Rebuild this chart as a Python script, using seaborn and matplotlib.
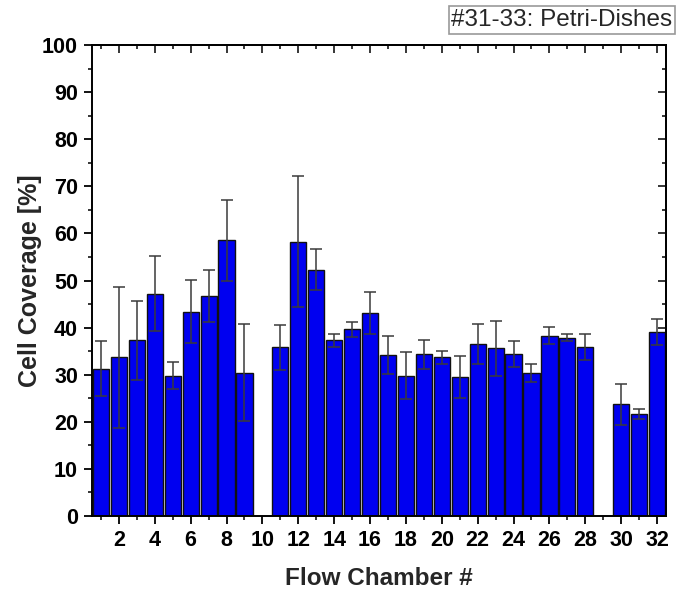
import numpy as np
import pandas as pd
import matplotlib
matplotlib.use("Agg")
import matplotlib.pyplot as plt
from matplotlib.ticker import MultipleLocator
import seaborn as sns

# Data (chambers 10 and 29 have no bar)
chambers = [1, 2, 3, 4, 5, 6, 7, 8, 9, 11, 12, 13, 14, 15, 16, 17, 18, 19, 20,
            21, 22, 23, 24, 25, 26, 27, 28, 30, 31, 32]
coverage = [31.3, 33.7, 37.3, 47.2, 29.8, 43.4, 46.7, 58.5, 30.4, 35.8, 58.2, 52.3,
            37.3, 39.6, 43.1, 34.2, 29.8, 34.3, 33.7, 29.5, 36.5, 35.6, 34.4, 30.3,
            38.3, 37.9, 35.9, 23.7, 21.7, 39.1]
errors = [5.8, 15.0, 8.4, 8.0, 2.9, 6.7, 5.6, 8.5, 10.3, 4.7, 13.9, 4.3,
          1.4, 1.6, 4.4, 4.1, 5.0, 3.1, 1.4, 4.4, 4.2, 5.8, 2.7, 1.9,
          1.8, 0.8, 2.8, 4.3, 1.1, 2.8]
x_ticks = list(range(2, 33, 2))
y_ticks = list(range(0, 101, 10))
legend_text = "#31-33: Petri-Dishes"

df = pd.DataFrame({"chamber": chambers, "coverage": coverage, "err": errors})

sns.set_style("ticks")
plt.rcParams["font.family"] = ["Liberation Sans", "DejaVu Sans"]

fig = plt.figure(figsize=(6.77, 5.90), dpi=100)
ax = fig.add_axes([0.1359, 0.1254, 0.9838 - 0.1359, 0.9237 - 0.1254])

sns.barplot(data=df, x="chamber", y="coverage", native_scale=True, width=0.9,
            color="#0000F0", saturation=1, edgecolor="#111111", linewidth=1.0,
            errorbar=None, ax=ax)
ax.errorbar(df["chamber"], df["coverage"], yerr=df["err"], fmt="none",
            ecolor="#3a3a3a", elinewidth=1.1, capsize=4, capthick=1.1, zorder=3)

ax.set_xlim(0.5, 32.5)
ax.set_ylim(0, 100)
ax.set_xticks(x_ticks)
ax.set_xticklabels([str(t) for t in x_ticks])
ax.xaxis.set_minor_locator(MultipleLocator(1))
ax.set_yticks(y_ticks)
ax.set_yticklabels([str(t) for t in y_ticks])
ax.yaxis.set_minor_locator(MultipleLocator(5))

for s in ax.spines.values():
    s.set_visible(True)
    s.set_linewidth(1.4)
    s.set_color("black")

ax.tick_params(axis="both", which="major", direction="out", length=6, width=1.3,
               labelsize=15.5, colors="black", pad=4)
ax.tick_params(axis="both", which="minor", direction="out", length=3, width=1.3)
for lab in ax.get_xticklabels() + ax.get_yticklabels():
    lab.set_fontweight("bold")

# inward ticks on top and right
top = ax.secondary_xaxis("top")
top.set_xticks(x_ticks)
top.xaxis.set_minor_locator(MultipleLocator(1))
top.tick_params(which="major", direction="in", length=6, width=1.3, labeltop=False)
top.tick_params(which="minor", direction="in", length=3, width=1.3)
top.spines["top"].set_linewidth(1.4)
right = ax.secondary_yaxis("right")
right.set_yticks(y_ticks)
right.yaxis.set_minor_locator(MultipleLocator(5))
right.tick_params(which="major", direction="in", length=6, width=1.3, labelright=False)
right.tick_params(which="minor", direction="in", length=3, width=1.3)
right.spines["right"].set_linewidth(1.4)

ax.set_xlabel("Flow Chamber #", fontsize=17.5, fontweight="bold", va="center")
ax.set_ylabel("Cell Coverage [%]", fontsize=18, fontweight="bold", va="center")
ax.xaxis.set_label_coords(0.5, (516 - 578) / 471)
ax.yaxis.set_label_coords((30 - 92) / 574, 0.5)

fig.text(562 / 677, 1 - 20 / 590, legend_text, fontsize=17.5, ha="center", va="center",
         bbox=dict(boxstyle="square,pad=0.12", fc="white", ec="#999999", lw=1.2))

fig.savefig("out.png", dpi=100)
